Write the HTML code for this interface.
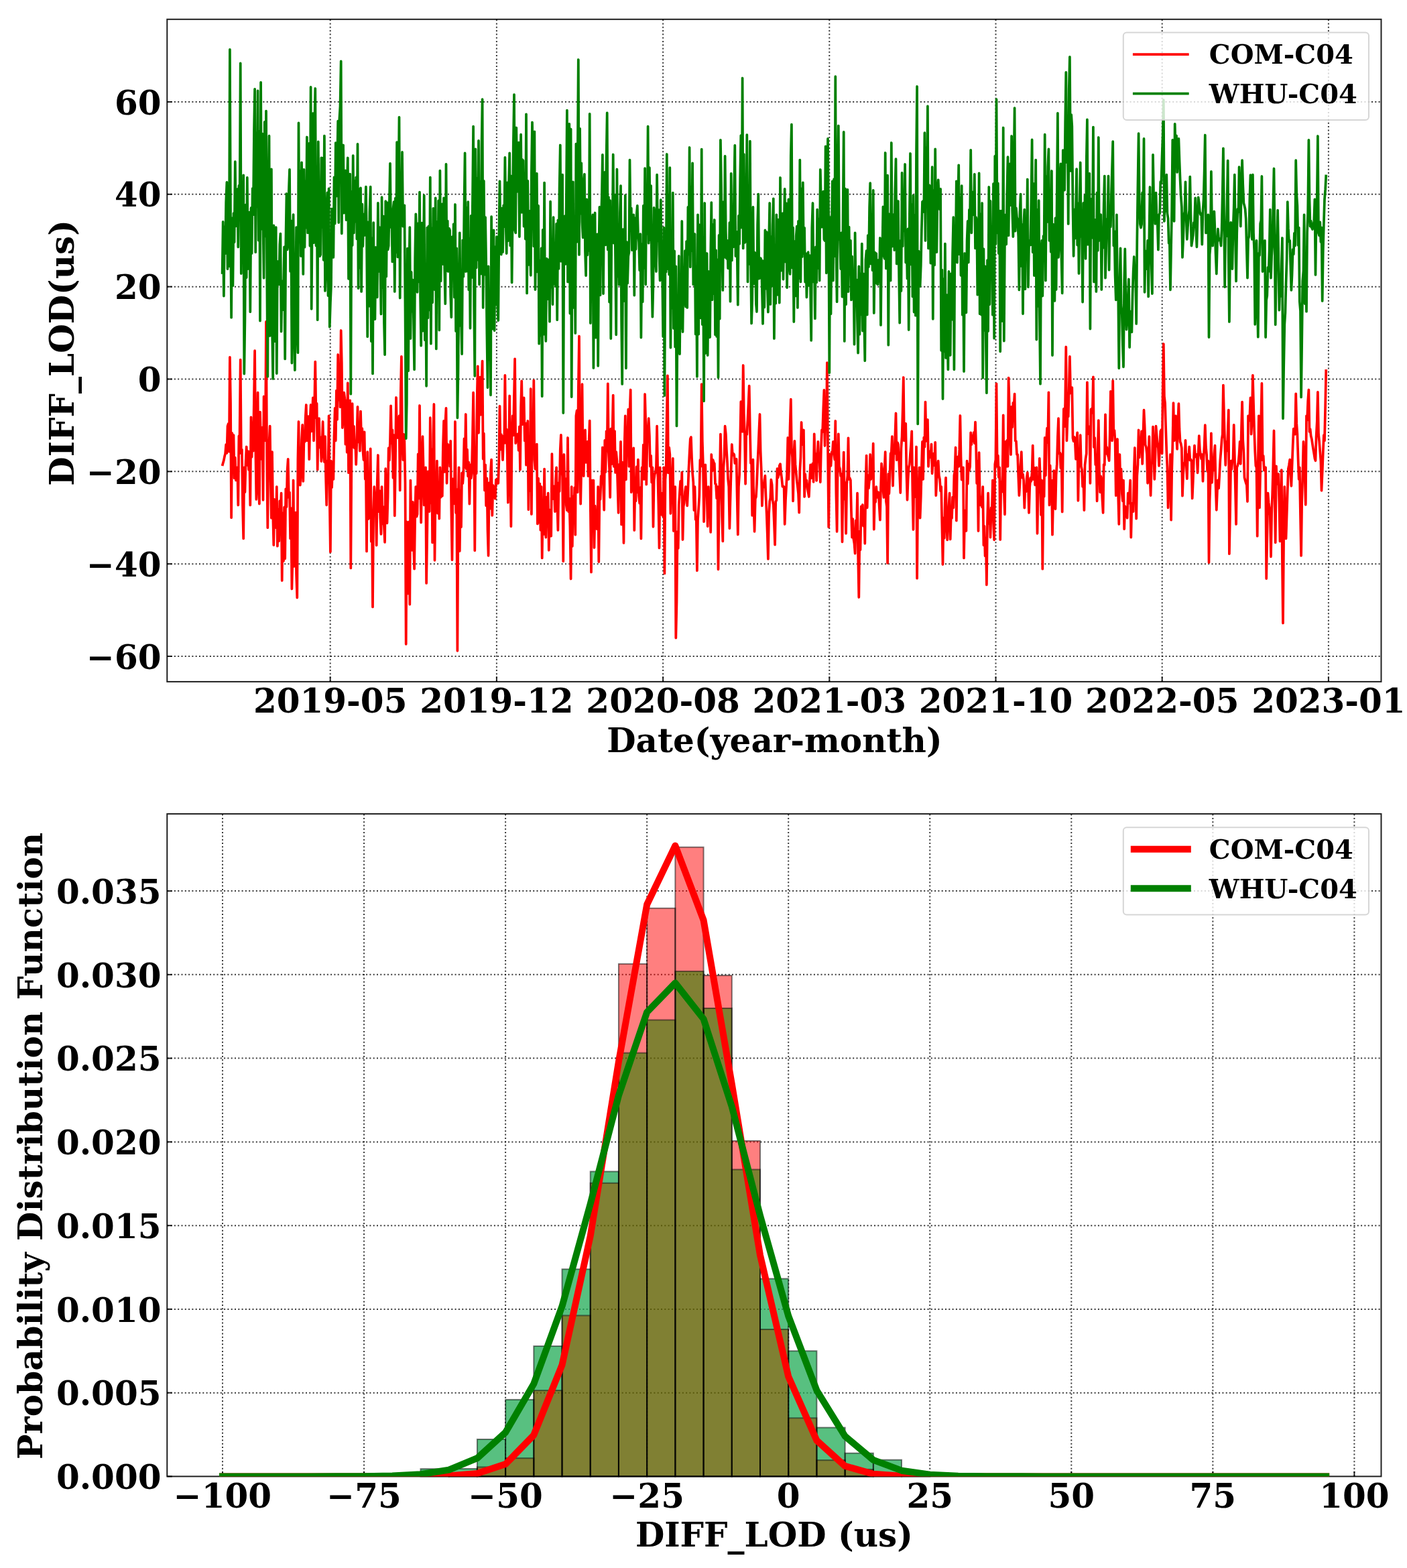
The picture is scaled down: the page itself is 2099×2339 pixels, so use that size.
<!DOCTYPE html>
<html lang="en"><head><meta charset="utf-8"><title>DIFF_LOD</title><style>html,body{margin:0;padding:0;background:#fff}
body{width:2099px;height:2339px;overflow:hidden}
svg{display:block}
.g{stroke:#000;stroke-opacity:.78;stroke-width:2;stroke-dasharray:2 3.3;fill:none}
.t{stroke:#000;stroke-opacity:.85;stroke-width:2}
.s{fill:none;stroke:#000;stroke-opacity:.88;stroke-width:2;stroke-linejoin:miter}
.tk{font-size:50px;fill:#000}
.lg{font-size:40px;fill:#000}
</style></head><body><svg width="2099" height="2339" viewBox="0 0 2099 2339" font-family='"DejaVu Serif","Liberation Serif",serif' font-weight="bold">
<defs><clipPath id="c2"><rect x="249.3" y="1214.1" width="1811.2" height="988.3000000000002"/></clipPath><clipPath id="c1"><rect x="249.3" y="28.8" width="1811.2" height="988.1"/></clipPath></defs><rect width="2099" height="2339" fill="#fff"/>
<g id="top">
<line x1="492.70" y1="1016.90" x2="492.70" y2="28.80" class="g"/>
<line x1="740.90" y1="1016.90" x2="740.90" y2="28.80" class="g"/>
<line x1="989.10" y1="1016.90" x2="989.10" y2="28.80" class="g"/>
<line x1="1237.30" y1="1016.90" x2="1237.30" y2="28.80" class="g"/>
<line x1="1485.50" y1="1016.90" x2="1485.50" y2="28.80" class="g"/>
<line x1="1733.70" y1="1016.90" x2="1733.70" y2="28.80" class="g"/>
<line x1="1981.90" y1="1016.90" x2="1981.90" y2="28.80" class="g"/>
<line x1="249.30" y1="151.98" x2="2060.50" y2="151.98" class="g"/>
<line x1="249.30" y1="289.82" x2="2060.50" y2="289.82" class="g"/>
<line x1="249.30" y1="427.66" x2="2060.50" y2="427.66" class="g"/>
<line x1="249.30" y1="565.50" x2="2060.50" y2="565.50" class="g"/>
<line x1="249.30" y1="703.34" x2="2060.50" y2="703.34" class="g"/>
<line x1="249.30" y1="841.18" x2="2060.50" y2="841.18" class="g"/>
<line x1="249.30" y1="979.02" x2="2060.50" y2="979.02" class="g"/>
<path d="M331.6,694.9 L332.7,690.7 L333.9,686.6 L335.0,681.0 L336.1,676.6 L337.2,663.1 L338.4,675.9 L339.5,635.7 L340.6,632.2 L341.8,673.6 L342.9,532.8 L344.0,601.0 L345.1,772.2 L346.3,646.2 L347.4,693.3 L348.5,649.2 L349.6,713.1 L350.8,682.5 L351.9,716.5 L353.0,701.4 L354.2,697.3 L355.3,753.5 L356.4,650.5 L357.5,655.3 L358.7,536.7 L359.8,676.6 L360.9,670.8 L362.1,757.3 L363.2,803.5 L364.3,697.3 L365.4,734.1 L366.6,688.8 L367.7,666.5 L368.8,693.9 L369.9,673.1 L371.1,700.8 L372.2,673.7 L373.3,753.5 L374.5,622.3 L375.6,681.8 L376.7,630.2 L377.8,672.7 L379.0,592.4 L380.1,523.2 L381.2,662.2 L382.4,744.9 L383.5,677.7 L384.6,585.7 L385.7,722.4 L386.9,751.6 L388.0,614.6 L389.1,659.5 L390.2,684.8 L391.4,637.7 L392.5,745.8 L393.6,591.5 L394.8,639.4 L395.9,657.4 L397.0,480.0 L398.1,675.7 L399.3,787.2 L400.4,671.3 L401.5,661.1 L402.7,635.7 L403.8,717.8 L404.9,772.7 L406.0,674.2 L407.2,766.3 L408.3,813.1 L409.4,745.0 L410.6,747.9 L411.7,787.3 L412.8,726.1 L413.9,814.7 L415.1,760.1 L416.2,807.2 L417.3,747.3 L418.4,768.5 L419.6,735.7 L420.7,866.0 L421.8,765.5 L423.0,836.9 L424.1,756.7 L425.2,833.3 L426.3,729.4 L427.5,756.3 L428.6,701.7 L429.7,684.8 L430.9,742.0 L432.0,734.6 L433.1,803.3 L434.2,758.1 L435.4,878.5 L436.5,833.3 L437.6,716.5 L438.7,844.9 L439.9,836.5 L441.0,764.7 L442.1,856.0 L443.3,891.6 L444.4,684.9 L445.5,629.0 L446.6,714.5 L447.8,723.7 L448.9,706.0 L450.0,656.3 L451.2,633.8 L452.3,717.9 L453.4,654.7 L454.5,659.3 L455.7,623.0 L456.8,604.0 L457.9,657.4 L459.1,623.4 L460.2,621.1 L461.3,685.2 L462.4,630.6 L463.6,604.0 L464.7,643.5 L465.8,618.6 L466.9,593.4 L468.1,657.4 L469.2,603.8 L470.3,539.6 L471.5,623.1 L472.6,601.9 L473.7,700.6 L474.8,643.9 L476.0,624.2 L477.1,667.6 L478.2,652.1 L479.4,688.1 L480.5,668.2 L481.6,629.0 L482.7,672.4 L483.9,689.1 L485.0,651.1 L486.1,711.6 L487.2,753.5 L488.4,687.7 L489.5,705.1 L490.6,620.3 L491.8,745.9 L492.9,823.1 L494.0,687.6 L495.1,727.1 L496.3,690.0 L497.4,715.0 L498.5,651.0 L499.7,608.8 L500.8,657.4 L501.9,582.6 L503.0,625.9 L504.2,529.0 L505.3,596.6 L506.4,549.5 L507.5,607.1 L508.7,493.0 L509.8,540.8 L510.9,638.1 L512.1,620.6 L513.2,585.7 L514.3,594.1 L515.4,662.6 L516.6,597.7 L517.7,674.7 L518.8,571.3 L520.0,705.2 L521.1,674.4 L522.2,597.3 L523.3,847.4 L524.5,671.9 L525.6,602.1 L526.7,667.0 L527.9,635.8 L529.0,668.5 L530.1,658.8 L531.2,692.9 L532.4,655.1 L533.5,606.9 L534.6,659.3 L535.7,635.2 L536.9,672.7 L538.0,613.6 L539.1,655.6 L540.3,639.2 L541.4,671.8 L542.5,686.2 L543.6,644.4 L544.8,714.7 L545.9,705.8 L547.0,822.4 L548.2,674.2 L549.3,774.2 L550.4,703.9 L551.5,772.7 L552.7,669.4 L553.8,807.8 L554.9,772.3 L556.0,905.4 L557.2,759.7 L558.3,726.1 L559.4,742.2 L560.6,752.5 L561.7,813.5 L562.8,719.2 L563.9,679.0 L565.1,763.1 L566.2,732.0 L567.3,772.4 L568.5,796.8 L569.6,726.1 L570.7,781.5 L571.8,756.1 L573.0,786.0 L574.1,808.9 L575.2,699.2 L576.3,763.4 L577.5,780.4 L578.6,741.2 L579.7,668.5 L580.9,686.7 L582.0,657.4 L583.1,605.3 L584.2,661.1 L585.4,641.4 L586.5,712.8 L587.6,649.2 L588.8,769.3 L589.9,692.4 L591.0,593.0 L592.1,647.7 L593.3,653.0 L594.4,637.9 L595.5,620.3 L596.7,731.4 L597.8,586.1 L598.9,531.9 L600.0,653.9 L601.2,686.2 L602.3,647.8 L603.4,658.8 L604.5,719.8 L605.7,960.8 L606.8,778.4 L607.9,885.5 L609.1,798.0 L610.2,778.5 L611.3,901.6 L612.4,716.5 L613.6,792.4 L614.7,820.8 L615.8,748.8 L617.0,810.7 L618.1,848.7 L619.2,769.6 L620.3,726.1 L621.5,770.7 L622.6,767.0 L623.7,677.5 L624.8,743.5 L626.0,605.0 L627.1,725.3 L628.2,779.5 L629.4,687.4 L630.5,651.1 L631.6,697.2 L632.7,753.5 L633.9,705.7 L635.0,697.3 L636.1,869.9 L637.3,792.0 L638.4,703.3 L639.5,748.2 L640.6,763.1 L641.8,623.2 L642.9,750.4 L644.0,670.1 L645.1,809.3 L646.3,647.9 L647.4,603.0 L648.5,835.8 L649.7,725.7 L650.8,751.7 L651.9,687.6 L653.0,765.7 L654.2,719.7 L655.3,773.7 L656.4,697.3 L657.6,741.8 L658.7,707.0 L659.8,740.0 L660.9,668.0 L662.1,628.0 L663.2,703.9 L664.3,632.3 L665.5,608.8 L666.6,720.8 L667.7,662.4 L668.8,679.1 L670.0,664.4 L671.1,695.8 L672.2,657.8 L673.3,759.1 L674.5,835.2 L675.6,714.4 L676.7,751.6 L677.9,734.3 L679.0,629.0 L680.1,765.0 L681.2,729.9 L682.4,970.8 L683.5,766.5 L684.6,697.3 L685.8,822.0 L686.9,732.3 L688.0,786.2 L689.1,705.6 L690.3,721.0 L691.4,705.4 L692.5,654.3 L693.6,697.2 L694.8,618.0 L695.9,699.6 L697.0,670.7 L698.2,710.5 L699.3,689.6 L700.4,751.6 L701.5,693.4 L702.7,713.3 L703.8,705.4 L704.9,656.1 L706.1,585.7 L707.2,664.6 L708.3,821.2 L709.4,668.0 L710.6,706.3 L711.7,592.0 L712.8,546.3 L714.0,645.8 L715.1,588.3 L716.2,562.6 L717.3,618.6 L718.5,570.2 L719.6,538.6 L720.7,684.5 L721.8,646.7 L723.0,731.4 L724.1,693.4 L725.2,754.3 L726.4,713.5 L727.5,791.3 L728.6,828.9 L729.7,720.3 L730.9,758.7 L732.0,703.7 L733.1,685.7 L734.3,768.9 L735.4,723.9 L736.5,737.3 L737.6,726.1 L738.8,743.9 L739.9,715.7 L741.0,721.7 L742.1,714.6 L743.3,720.8 L744.4,685.1 L745.5,605.9 L746.7,670.6 L747.8,648.1 L748.9,658.8 L750.0,686.2 L751.2,650.3 L752.3,660.9 L753.4,559.8 L754.6,660.7 L755.7,640.4 L756.8,678.0 L757.9,749.7 L759.1,673.3 L760.2,590.5 L761.3,697.9 L762.4,785.2 L763.6,652.1 L764.7,620.3 L765.8,649.4 L767.0,589.1 L768.1,535.3 L769.2,661.2 L770.3,649.3 L771.5,655.5 L772.6,647.3 L773.7,671.8 L774.9,636.5 L776.0,700.6 L777.1,608.3 L778.2,568.4 L779.4,633.1 L780.5,631.3 L781.6,593.4 L782.8,657.4 L783.9,631.4 L785.0,693.7 L786.1,649.6 L787.3,628.0 L788.4,760.2 L789.5,672.2 L790.6,732.1 L791.8,580.0 L792.9,767.0 L794.0,617.5 L795.2,664.9 L796.3,567.5 L797.4,686.2 L798.5,699.6 L799.7,674.3 L800.8,662.6 L801.9,781.4 L803.1,713.6 L804.2,779.3 L805.3,721.5 L806.4,790.6 L807.6,726.1 L808.7,832.4 L809.8,754.7 L810.9,797.0 L812.1,699.6 L813.2,784.4 L814.3,801.6 L815.5,741.7 L816.6,778.8 L817.7,735.7 L818.8,820.8 L820.0,760.6 L821.1,784.3 L822.2,799.7 L823.4,677.1 L824.5,744.1 L825.6,738.3 L826.7,725.4 L827.9,763.1 L829.0,716.5 L830.1,697.3 L831.2,748.9 L832.4,791.0 L833.5,720.4 L834.6,732.9 L835.8,670.8 L836.9,648.8 L838.0,695.8 L839.1,711.1 L840.3,837.2 L841.4,678.0 L842.5,742.9 L843.7,714.0 L844.8,753.6 L845.9,761.2 L847.0,653.0 L848.2,763.3 L849.3,743.7 L850.4,784.9 L851.6,863.5 L852.7,726.1 L853.8,815.0 L854.9,740.6 L856.1,775.8 L857.2,727.4 L858.3,797.7 L859.4,620.3 L860.6,612.5 L861.7,734.3 L862.8,583.2 L864.0,501.5 L865.1,687.8 L866.2,751.6 L867.3,694.2 L868.5,573.2 L869.6,682.5 L870.7,710.2 L871.9,650.3 L873.0,641.5 L874.1,689.9 L875.2,664.3 L876.4,658.8 L877.5,710.2 L878.6,661.1 L879.7,627.6 L880.9,761.8 L882.0,853.5 L883.1,716.6 L884.3,791.8 L885.4,716.5 L886.5,817.0 L887.6,754.6 L888.8,788.6 L889.9,764.8 L891.0,789.4 L892.2,726.1 L893.3,838.1 L894.4,740.2 L895.5,744.9 L896.7,710.1 L897.8,715.0 L898.9,667.5 L900.0,720.8 L901.2,760.8 L902.3,656.9 L903.4,704.1 L904.6,643.3 L905.7,672.7 L906.8,572.3 L907.9,675.5 L909.1,699.5 L910.2,742.0 L911.3,639.6 L912.5,692.3 L913.6,642.4 L914.7,589.6 L915.8,695.8 L917.0,643.0 L918.1,704.9 L919.2,674.2 L920.4,687.6 L921.5,725.7 L922.6,765.0 L923.7,692.9 L924.9,707.5 L926.0,658.8 L927.1,782.4 L928.2,689.7 L929.4,744.3 L930.5,809.9 L931.6,666.2 L932.8,620.3 L933.9,715.5 L935.0,644.5 L936.1,666.7 L937.3,610.7 L938.4,695.8 L939.5,616.5 L940.7,581.5 L941.8,734.3 L942.9,725.5 L944.0,694.9 L945.2,668.4 L946.3,791.0 L947.4,723.9 L948.5,747.4 L949.7,696.3 L950.8,734.3 L951.9,685.7 L953.1,740.0 L954.2,750.7 L955.3,727.3 L956.4,803.5 L957.6,697.3 L958.7,714.8 L959.8,663.6 L961.0,715.0 L962.1,588.0 L963.2,629.3 L964.3,722.7 L965.5,652.3 L966.6,641.3 L967.7,624.2 L968.9,650.2 L970.0,695.8 L971.1,679.8 L972.2,719.7 L973.4,697.3 L974.5,785.8 L975.6,716.5 L976.7,707.6 L977.9,704.5 L979.0,695.8 L980.1,635.7 L981.3,708.1 L982.4,753.5 L983.5,817.4 L984.6,697.3 L985.8,767.6 L986.9,735.7 L988.0,768.0 L989.2,770.0 L990.3,697.3 L991.4,855.4 L992.5,715.3 L993.7,699.4 L994.8,620.6 L995.9,560.3 L997.0,705.4 L998.2,667.5 L999.3,678.0 L1000.4,766.0 L1001.6,712.5 L1002.7,716.4 L1003.8,683.8 L1004.9,792.0 L1006.1,765.5 L1007.2,726.1 L1008.3,951.6 L1009.5,897.9 L1010.6,793.1 L1011.7,818.0 L1012.8,752.6 L1014.0,734.3 L1015.1,717.8 L1016.2,737.2 L1017.3,704.6 L1018.5,805.0 L1019.6,755.3 L1020.7,750.3 L1021.9,734.3 L1023.0,726.1 L1024.1,728.8 L1025.2,754.5 L1026.4,729.5 L1027.5,698.6 L1028.6,676.5 L1029.8,654.7 L1030.9,652.1 L1032.0,683.0 L1033.1,705.3 L1034.3,719.4 L1035.4,761.2 L1036.5,726.1 L1037.7,775.0 L1038.8,775.9 L1039.9,851.2 L1041.0,775.6 L1042.2,757.9 L1043.3,739.5 L1044.4,686.1 L1045.5,695.8 L1046.7,573.2 L1047.8,658.0 L1048.9,692.5 L1050.1,778.1 L1051.2,724.1 L1052.3,693.4 L1053.4,735.4 L1054.6,738.2 L1055.7,785.2 L1056.8,726.1 L1058.0,759.0 L1059.1,746.6 L1060.2,793.9 L1061.3,678.0 L1062.5,702.6 L1063.6,686.1 L1064.7,689.6 L1065.8,691.5 L1067.0,721.6 L1068.1,722.4 L1069.2,743.4 L1070.4,726.1 L1071.5,849.3 L1072.6,755.9 L1073.7,714.5 L1074.9,647.6 L1076.0,694.0 L1077.1,769.9 L1078.3,807.4 L1079.4,697.3 L1080.5,681.6 L1081.6,635.7 L1082.8,647.2 L1083.9,671.4 L1085.0,689.9 L1086.1,714.5 L1087.3,726.1 L1088.4,788.1 L1089.5,744.5 L1090.7,700.7 L1091.8,663.0 L1092.9,678.8 L1094.0,676.6 L1095.2,677.9 L1096.3,691.0 L1097.4,685.7 L1098.6,684.8 L1099.7,743.3 L1100.8,797.4 L1101.9,726.1 L1103.1,708.1 L1104.2,659.3 L1105.3,599.2 L1106.5,628.9 L1107.6,643.9 L1108.7,545.0 L1109.8,617.2 L1111.0,649.4 L1112.1,721.8 L1113.2,647.3 L1114.3,648.0 L1115.5,624.4 L1116.6,601.6 L1117.7,575.7 L1118.9,642.0 L1120.0,690.9 L1121.1,691.5 L1122.2,768.9 L1123.4,685.7 L1124.5,755.5 L1125.6,792.9 L1126.8,744.0 L1127.9,741.1 L1129.0,722.3 L1130.1,694.1 L1131.3,669.2 L1132.4,642.0 L1133.5,618.0 L1134.6,672.9 L1135.8,701.9 L1136.9,754.5 L1138.0,726.1 L1139.2,726.7 L1140.3,716.2 L1141.4,709.7 L1142.5,740.8 L1143.7,766.5 L1144.8,796.9 L1145.9,833.9 L1147.1,766.5 L1148.2,748.0 L1149.3,743.1 L1150.4,715.5 L1151.6,723.0 L1152.7,746.8 L1153.8,753.4 L1154.9,780.0 L1156.1,812.7 L1157.2,748.3 L1158.3,746.4 L1159.5,699.2 L1160.6,712.5 L1161.7,708.2 L1162.8,694.6 L1164.0,692.1 L1165.1,704.9 L1166.2,713.2 L1167.4,725.9 L1168.5,725.5 L1169.6,726.1 L1170.7,782.0 L1171.9,747.5 L1173.0,726.8 L1174.1,706.0 L1175.3,653.0 L1176.4,715.0 L1177.5,686.7 L1178.6,636.9 L1179.8,595.7 L1180.9,669.1 L1182.0,681.8 L1183.1,747.4 L1184.3,677.9 L1185.4,657.8 L1186.5,692.9 L1187.7,705.4 L1188.8,717.1 L1189.9,726.1 L1191.0,736.0 L1192.2,764.7 L1193.3,702.1 L1194.4,682.2 L1195.6,630.0 L1196.7,663.1 L1197.8,650.7 L1198.9,641.5 L1200.1,741.0 L1201.2,707.3 L1202.3,724.8 L1203.4,716.5 L1204.6,729.0 L1205.7,734.7 L1206.8,741.0 L1208.0,715.1 L1209.1,693.4 L1210.2,713.2 L1211.3,696.3 L1212.5,691.3 L1213.6,718.9 L1214.7,647.3 L1215.9,689.8 L1217.0,676.9 L1218.1,717.0 L1219.2,682.2 L1220.4,658.8 L1221.5,688.3 L1222.6,686.1 L1223.8,719.3 L1224.9,669.6 L1226.0,641.5 L1227.1,644.4 L1228.3,609.2 L1229.4,581.9 L1230.5,665.0 L1231.6,614.8 L1232.8,638.1 L1233.9,541.1 L1235.0,667.7 L1236.2,786.2 L1237.3,705.4 L1238.4,678.0 L1239.5,694.8 L1240.7,674.3 L1241.8,676.3 L1242.9,658.8 L1244.1,676.6 L1245.2,685.5 L1246.3,628.0 L1247.4,736.4 L1248.6,792.9 L1249.7,695.1 L1250.8,647.3 L1251.9,695.8 L1253.1,699.6 L1254.2,710.1 L1255.3,706.9 L1256.5,808.3 L1257.6,722.0 L1258.7,674.6 L1259.8,744.5 L1261.0,719.8 L1262.1,795.8 L1263.2,722.4 L1264.4,709.8 L1265.5,653.4 L1266.6,715.0 L1267.7,713.2 L1268.9,716.5 L1270.0,764.4 L1271.1,801.6 L1272.2,774.2 L1273.4,804.3 L1274.5,811.0 L1275.6,825.6 L1276.8,776.4 L1277.9,789.8 L1279.0,735.7 L1280.1,825.4 L1281.3,891.0 L1282.4,792.7 L1283.5,820.3 L1284.7,755.5 L1285.8,772.7 L1286.9,753.0 L1288.0,784.6 L1289.2,761.6 L1290.3,810.8 L1291.4,726.3 L1292.6,679.6 L1293.7,757.4 L1294.8,708.9 L1295.9,728.3 L1297.1,715.1 L1298.2,678.0 L1299.3,715.0 L1300.4,694.1 L1301.6,705.0 L1302.7,661.7 L1303.8,789.7 L1305.0,739.3 L1306.1,748.8 L1307.2,726.1 L1308.3,742.0 L1309.5,733.9 L1310.6,734.7 L1311.7,754.3 L1312.9,775.6 L1314.0,728.1 L1315.1,691.5 L1316.2,702.6 L1317.4,730.3 L1318.5,742.0 L1319.6,699.9 L1320.7,674.2 L1321.9,747.7 L1323.0,755.8 L1324.1,840.0 L1325.3,706.9 L1326.4,736.4 L1327.5,709.3 L1328.6,676.6 L1329.8,674.4 L1330.9,651.1 L1332.0,724.7 L1333.2,674.3 L1334.3,677.0 L1335.4,649.2 L1336.5,616.5 L1337.7,686.2 L1338.8,660.1 L1339.9,662.6 L1341.0,683.0 L1342.2,709.3 L1343.3,735.2 L1344.4,668.4 L1345.6,651.3 L1346.7,611.6 L1347.8,563.0 L1348.9,657.4 L1350.1,656.4 L1351.2,631.9 L1352.3,702.2 L1353.5,745.8 L1354.6,714.9 L1355.7,697.3 L1356.8,693.1 L1358.0,676.6 L1359.1,663.1 L1360.2,643.4 L1361.4,733.1 L1362.5,790.0 L1363.6,697.3 L1364.7,703.0 L1365.9,741.2 L1367.0,666.5 L1368.1,862.7 L1369.2,742.0 L1370.4,733.5 L1371.5,697.3 L1372.6,772.7 L1373.8,740.2 L1374.9,696.3 L1376.0,658.8 L1377.1,715.0 L1378.3,652.6 L1379.4,666.6 L1380.5,599.6 L1381.7,658.0 L1382.8,629.7 L1383.9,626.1 L1385.0,695.8 L1386.2,673.1 L1387.3,682.3 L1388.4,679.8 L1389.5,662.6 L1390.7,706.4 L1391.8,683.0 L1392.9,676.6 L1394.1,694.4 L1395.2,659.8 L1396.3,739.1 L1397.4,716.2 L1398.6,695.4 L1399.7,687.6 L1400.8,709.5 L1402.0,715.0 L1403.1,732.5 L1404.2,726.1 L1405.3,781.4 L1406.5,842.0 L1407.6,772.4 L1408.7,802.8 L1409.9,746.0 L1411.0,712.6 L1412.1,780.3 L1413.2,805.4 L1414.4,777.9 L1415.5,754.9 L1416.6,735.7 L1417.7,804.5 L1418.9,765.3 L1420.0,773.0 L1421.1,741.7 L1422.3,757.4 L1423.4,708.8 L1424.5,703.5 L1425.6,667.5 L1426.8,776.6 L1427.9,700.1 L1429.0,681.3 L1430.2,695.8 L1431.3,670.9 L1432.4,620.0 L1433.5,681.5 L1434.7,715.6 L1435.8,704.6 L1436.9,697.3 L1438.0,832.4 L1439.2,761.4 L1440.3,781.7 L1441.4,792.0 L1442.6,687.6 L1443.7,721.8 L1444.8,692.1 L1445.9,701.8 L1447.1,695.8 L1448.2,645.3 L1449.3,663.1 L1450.5,650.2 L1451.6,657.5 L1452.7,645.2 L1453.8,661.2 L1455.0,629.6 L1456.1,663.4 L1457.2,720.9 L1458.3,687.6 L1459.5,792.0 L1460.6,675.1 L1461.7,737.8 L1462.9,753.5 L1464.0,745.9 L1465.1,756.6 L1466.2,726.1 L1467.4,813.1 L1468.5,784.8 L1469.6,829.4 L1470.8,803.1 L1471.9,872.4 L1473.0,779.2 L1474.1,735.7 L1475.3,780.9 L1476.4,761.5 L1477.5,801.6 L1478.7,757.5 L1479.8,762.5 L1480.9,716.5 L1482.0,779.7 L1483.2,805.4 L1484.3,692.6 L1485.4,685.6 L1486.5,572.3 L1487.7,695.8 L1488.8,679.7 L1489.9,712.0 L1491.1,697.3 L1492.2,805.0 L1493.3,719.4 L1494.4,733.9 L1495.6,709.3 L1496.7,619.4 L1497.8,732.8 L1499.0,767.4 L1500.1,658.8 L1501.2,696.1 L1502.3,656.9 L1503.5,695.8 L1504.6,563.6 L1505.7,602.1 L1506.8,642.6 L1508.0,678.1 L1509.1,606.9 L1510.2,637.3 L1511.4,600.8 L1512.5,607.4 L1513.6,587.6 L1514.7,657.4 L1515.9,658.2 L1517.0,677.8 L1518.1,678.0 L1519.3,712.1 L1520.4,739.1 L1521.5,720.6 L1522.6,693.7 L1523.8,674.2 L1524.9,712.5 L1526.0,707.5 L1527.1,716.5 L1528.3,757.7 L1529.4,726.3 L1530.5,733.3 L1531.7,713.6 L1532.8,705.0 L1533.9,724.7 L1535.0,765.0 L1536.2,726.1 L1537.3,713.0 L1538.4,717.8 L1539.6,704.9 L1540.7,664.6 L1541.8,715.0 L1542.9,697.5 L1544.1,723.5 L1545.2,706.7 L1546.3,697.3 L1547.5,795.8 L1548.6,732.6 L1549.7,734.3 L1550.8,683.8 L1552.0,719.3 L1553.1,768.2 L1554.2,716.5 L1555.3,848.7 L1556.5,730.5 L1557.6,740.7 L1558.7,653.0 L1559.9,709.3 L1561.0,658.7 L1562.1,638.7 L1563.2,660.1 L1564.4,585.3 L1565.5,753.5 L1566.6,694.4 L1567.8,737.4 L1568.9,716.5 L1570.0,797.7 L1571.1,745.1 L1572.3,702.1 L1573.4,724.5 L1574.5,759.3 L1575.6,708.0 L1576.8,692.4 L1577.9,651.8 L1579.0,624.2 L1580.2,676.6 L1581.3,675.4 L1582.4,698.1 L1583.5,678.0 L1584.7,763.5 L1585.8,671.8 L1586.9,609.8 L1588.1,636.1 L1589.2,600.5 L1590.3,517.5 L1591.4,657.4 L1592.6,620.3 L1593.7,621.3 L1594.8,577.8 L1595.9,531.9 L1597.1,586.5 L1598.2,578.0 L1599.3,578.0 L1600.5,653.5 L1601.6,658.2 L1602.7,652.0 L1603.8,658.8 L1605.0,684.8 L1606.1,657.9 L1607.2,645.3 L1608.4,746.8 L1609.5,682.0 L1610.6,694.5 L1611.7,649.2 L1612.9,695.8 L1614.0,700.4 L1615.1,726.0 L1616.3,716.5 L1617.4,761.2 L1618.5,693.7 L1619.6,684.2 L1620.8,676.6 L1621.9,570.3 L1623.0,647.2 L1624.1,636.2 L1625.3,639.6 L1626.4,720.8 L1627.5,610.7 L1628.7,609.6 L1629.8,615.9 L1630.9,562.3 L1632.0,667.0 L1633.2,653.2 L1634.3,693.2 L1635.4,678.0 L1636.6,747.4 L1637.7,673.5 L1638.8,627.1 L1639.9,694.8 L1641.1,734.3 L1642.2,710.3 L1643.3,716.5 L1644.4,744.4 L1645.6,765.0 L1646.7,692.8 L1647.8,693.6 L1649.0,618.4 L1650.1,676.6 L1651.2,667.2 L1652.3,678.0 L1653.5,681.5 L1654.6,687.2 L1655.7,648.6 L1656.9,583.8 L1658.0,635.1 L1659.1,657.4 L1660.2,568.0 L1661.4,648.3 L1662.5,642.2 L1663.6,658.8 L1664.8,739.1 L1665.9,698.7 L1667.0,655.0 L1668.1,735.9 L1669.3,782.0 L1670.4,678.0 L1671.5,723.4 L1672.6,699.7 L1673.8,735.7 L1674.9,747.3 L1676.0,716.5 L1677.2,789.1 L1678.3,755.1 L1679.4,760.6 L1680.5,760.0 L1681.7,772.7 L1682.8,735.7 L1683.9,750.7 L1685.1,736.7 L1686.2,716.5 L1687.3,801.6 L1688.4,750.6 L1689.6,760.0 L1690.7,763.1 L1691.8,702.9 L1692.9,668.0 L1694.1,724.5 L1695.2,773.7 L1696.3,709.9 L1697.5,692.7 L1698.6,641.5 L1699.7,682.4 L1700.8,661.7 L1702.0,664.0 L1703.1,643.4 L1704.2,692.0 L1705.4,650.1 L1706.5,611.7 L1707.6,634.6 L1708.7,663.5 L1709.9,667.0 L1711.0,678.0 L1712.1,720.8 L1713.2,687.2 L1714.4,651.1 L1715.5,708.0 L1716.6,739.1 L1717.8,692.1 L1718.9,689.9 L1720.0,636.7 L1721.1,669.4 L1722.3,715.0 L1723.4,682.1 L1724.5,635.7 L1725.7,650.2 L1726.8,663.2 L1727.9,668.4 L1729.0,694.9 L1730.2,666.2 L1731.3,643.4 L1732.4,641.2 L1733.6,676.6 L1734.7,584.3 L1735.8,513.0 L1736.9,591.2 L1738.1,601.5 L1739.2,639.6 L1740.3,672.9 L1741.4,697.3 L1742.6,757.4 L1743.7,720.8 L1744.8,718.5 L1746.0,678.0 L1747.1,775.6 L1748.2,702.9 L1749.3,663.8 L1750.5,601.1 L1751.6,657.4 L1752.7,635.6 L1753.9,620.3 L1755.0,650.8 L1756.1,669.9 L1757.2,631.9 L1758.4,602.1 L1759.5,639.7 L1760.6,659.0 L1761.7,661.8 L1762.9,668.4 L1764.0,739.7 L1765.1,707.9 L1766.3,690.8 L1767.4,690.4 L1768.5,656.9 L1769.6,689.5 L1770.8,714.1 L1771.9,678.0 L1773.0,685.6 L1774.2,666.5 L1775.3,686.5 L1776.4,685.2 L1777.5,687.6 L1778.7,743.5 L1779.8,718.0 L1780.9,686.1 L1782.0,664.6 L1783.2,681.4 L1784.3,678.5 L1785.4,678.0 L1786.6,705.4 L1787.7,676.2 L1788.8,650.1 L1789.9,670.5 L1791.1,678.0 L1792.2,684.4 L1793.3,678.0 L1794.5,717.9 L1795.6,682.5 L1796.7,664.7 L1797.8,634.2 L1799.0,667.0 L1800.1,678.4 L1801.2,703.2 L1802.4,687.6 L1803.5,839.1 L1804.6,747.3 L1805.7,716.3 L1806.9,646.3 L1808.0,719.9 L1809.1,698.9 L1810.2,702.0 L1811.4,677.1 L1812.5,664.6 L1813.6,722.9 L1814.8,760.8 L1815.9,732.7 L1817.0,716.5 L1818.1,728.5 L1819.3,707.5 L1820.4,686.1 L1821.5,672.5 L1822.7,655.6 L1823.8,647.7 L1824.9,574.6 L1826.0,618.3 L1827.2,661.1 L1828.3,693.9 L1829.4,658.8 L1830.5,672.3 L1831.7,645.8 L1832.8,611.7 L1833.9,826.2 L1835.1,760.8 L1836.2,687.6 L1837.3,700.0 L1838.4,688.8 L1839.6,684.3 L1840.7,633.8 L1841.8,679.2 L1843.0,730.9 L1844.1,782.0 L1845.2,697.3 L1846.3,694.3 L1847.5,689.9 L1848.6,677.6 L1849.7,658.8 L1850.8,692.0 L1852.0,639.8 L1853.1,599.6 L1854.2,656.0 L1855.4,674.7 L1856.5,712.2 L1857.6,716.5 L1858.7,720.3 L1859.9,723.5 L1861.0,748.1 L1862.1,620.3 L1863.3,627.6 L1864.4,621.1 L1865.5,593.4 L1866.6,647.7 L1867.8,625.5 L1868.9,559.8 L1870.0,601.5 L1871.2,642.6 L1872.3,673.8 L1873.4,694.7 L1874.5,697.3 L1875.7,799.7 L1876.8,694.8 L1877.9,620.3 L1879.0,757.4 L1880.2,700.8 L1881.3,627.0 L1882.4,571.9 L1883.6,686.2 L1884.7,680.1 L1885.8,701.6 L1886.9,699.1 L1888.1,697.3 L1889.2,863.1 L1890.3,802.4 L1891.5,735.7 L1892.6,749.4 L1893.7,757.4 L1894.8,768.6 L1896.0,830.4 L1897.1,766.1 L1898.2,736.7 L1899.3,695.8 L1900.5,642.5 L1901.6,731.4 L1902.7,809.3 L1903.9,695.3 L1905.0,722.3 L1906.1,716.5 L1907.2,707.2 L1908.4,750.8 L1909.5,807.4 L1910.6,769.8 L1911.8,701.1 L1912.9,834.1 L1914.0,929.5 L1915.1,802.7 L1916.3,726.1 L1917.4,774.4 L1918.5,803.5 L1919.7,766.2 L1920.8,731.8 L1921.9,699.2 L1923.0,693.8 L1924.2,685.7 L1925.3,705.0 L1926.4,725.0 L1927.5,696.3 L1928.7,664.3 L1929.8,639.6 L1930.9,646.9 L1932.1,647.7 L1933.2,587.3 L1934.3,631.9 L1935.4,647.3 L1936.6,685.1 L1937.7,715.0 L1938.8,697.3 L1940.0,768.9 L1941.1,828.9 L1942.2,747.8 L1943.3,710.2 L1944.5,658.8 L1945.6,681.7 L1946.7,713.4 L1947.8,752.9 L1949.0,620.3 L1950.1,626.6 L1951.2,598.5 L1952.4,581.5 L1953.5,643.9 L1954.6,640.1 L1955.7,650.4 L1956.9,655.0 L1958.0,662.8 L1959.1,669.8 L1960.3,676.8 L1961.4,683.8 L1962.5,687.2 L1963.6,651.8 L1964.8,628.6 L1965.9,584.8 L1967.0,647.7 L1968.1,658.3 L1969.3,673.7 L1970.4,687.6 L1971.5,731.8 L1972.7,703.5 L1973.8,674.2 L1974.9,649.2 L1976.0,657.4 L1977.2,604.0 L1978.3,551.1" fill="none" stroke="#ff0000" stroke-width="3.75" stroke-linejoin="round" stroke-linecap="butt"/>
<path d="M331.6,408.9 L332.7,330.9 L333.9,441.6 L335.0,338.1 L336.1,378.3 L337.2,301.8 L338.4,271.8 L339.5,401.2 L340.6,280.8 L341.8,397.2 L342.9,73.8 L344.0,331.7 L345.1,473.7 L346.3,325.3 L347.4,426.2 L348.5,318.1 L349.6,361.3 L350.8,241.2 L351.9,337.4 L353.0,294.5 L354.2,282.1 L355.3,368.5 L356.4,277.0 L357.5,321.4 L358.7,94.4 L359.8,408.0 L360.9,284.0 L362.1,345.2 L363.2,261.4 L364.3,557.5 L365.4,477.6 L366.6,305.6 L367.7,414.1 L368.8,264.9 L369.9,401.2 L371.1,348.0 L372.2,316.6 L373.3,465.2 L374.5,310.2 L375.6,378.1 L376.7,281.2 L377.8,320.2 L379.0,196.0 L380.1,132.8 L381.2,376.2 L382.4,198.2 L383.5,308.4 L384.6,135.4 L385.7,358.6 L386.9,196.2 L388.0,478.5 L389.1,122.8 L390.2,341.7 L391.4,199.7 L392.5,334.7 L393.6,414.7 L394.8,182.0 L395.9,352.3 L397.0,165.6 L398.1,388.7 L399.3,561.8 L400.4,308.6 L401.5,202.7 L402.7,500.8 L403.8,276.0 L404.9,252.4 L406.0,486.5 L407.2,565.0 L408.3,336.3 L409.4,509.1 L410.6,418.7 L411.7,339.1 L412.8,557.0 L413.9,389.8 L415.1,410.7 L416.2,424.3 L417.3,365.1 L418.4,348.6 L419.6,494.5 L420.7,419.0 L421.8,462.2 L423.0,430.2 L424.1,368.4 L425.2,535.4 L426.3,364.0 L427.5,289.0 L428.6,372.4 L429.7,366.6 L430.9,284.3 L432.0,252.8 L433.1,404.7 L434.2,329.3 L435.4,541.6 L436.5,355.3 L437.6,320.1 L438.7,488.2 L439.9,552.2 L441.0,454.4 L442.1,339.1 L443.3,483.7 L444.4,526.2 L445.5,183.4 L446.6,361.4 L447.8,255.1 L448.9,382.0 L450.0,242.4 L451.2,332.2 L452.3,408.9 L453.4,252.8 L454.5,368.7 L455.7,270.1 L456.8,339.7 L457.9,204.5 L459.1,347.4 L460.2,310.0 L461.3,213.9 L462.4,366.7 L463.6,129.9 L464.7,460.8 L465.8,317.3 L466.9,169.1 L468.1,362.1 L469.2,191.6 L470.3,132.0 L471.5,366.6 L472.6,268.4 L473.7,477.2 L474.8,211.4 L476.0,343.0 L477.1,382.3 L478.2,380.0 L479.4,235.3 L480.5,339.0 L481.6,235.9 L482.7,387.8 L483.9,202.7 L485.0,433.9 L486.1,402.5 L487.2,318.1 L488.4,287.3 L489.5,441.0 L490.6,281.3 L491.8,487.7 L492.9,452.0 L494.0,426.1 L495.1,311.5 L496.3,364.1 L497.4,383.9 L498.5,264.4 L499.7,333.4 L500.8,213.1 L501.9,292.7 L503.0,250.2 L504.2,180.6 L505.3,332.0 L506.4,177.0 L507.5,158.5 L508.7,91.4 L509.8,348.3 L510.9,226.4 L512.1,216.5 L513.2,317.7 L514.3,266.2 L515.4,254.5 L516.6,328.1 L517.7,277.3 L518.8,235.5 L520.0,415.8 L521.1,286.0 L522.2,259.7 L523.3,587.7 L524.5,285.6 L525.6,366.0 L526.7,232.1 L527.9,347.4 L529.0,270.2 L530.1,330.7 L531.2,264.6 L532.4,356.4 L533.5,214.8 L534.6,430.0 L535.7,282.1 L536.9,399.5 L538.0,280.4 L539.1,434.9 L540.3,304.6 L541.4,367.4 L542.5,319.6 L543.6,351.2 L544.8,323.4 L545.9,278.7 L547.0,353.6 L548.2,502.2 L549.3,331.5 L550.4,456.7 L551.5,316.2 L552.7,278.7 L553.8,509.1 L554.9,355.0 L556.0,557.4 L557.2,332.2 L558.3,476.1 L559.4,476.2 L560.6,369.0 L561.7,402.1 L562.8,443.5 L563.9,302.8 L565.1,404.9 L566.2,339.0 L567.3,392.0 L568.5,468.5 L569.6,294.2 L570.7,429.0 L571.8,322.7 L573.0,480.9 L574.1,529.1 L575.2,300.2 L576.3,412.5 L577.5,302.1 L578.6,372.5 L579.7,366.6 L580.9,302.6 L582.0,243.8 L583.1,338.8 L584.2,316.3 L585.4,390.4 L586.5,311.5 L587.6,301.1 L588.8,434.9 L589.9,295.6 L591.0,376.4 L592.1,212.2 L593.3,383.4 L594.4,297.6 L595.5,174.8 L596.7,444.5 L597.8,287.7 L598.9,312.3 L600.0,226.9 L601.2,337.7 L602.3,327.5 L603.4,306.3 L604.5,458.8 L605.7,654.1 L606.8,601.8 L607.9,370.7 L609.1,553.2 L610.2,416.1 L611.3,339.1 L612.4,505.0 L613.6,405.8 L614.7,464.7 L615.8,417.7 L617.0,478.7 L618.1,551.2 L619.2,386.5 L620.3,319.4 L621.5,356.8 L622.6,435.8 L623.7,333.3 L624.8,420.3 L626.0,286.7 L627.1,443.4 L628.2,515.6 L629.4,332.7 L630.5,493.7 L631.6,400.0 L632.7,291.5 L633.9,507.2 L635.0,412.5 L636.1,575.8 L637.3,339.6 L638.4,474.2 L639.5,337.3 L640.6,462.4 L641.8,264.6 L642.9,512.7 L644.0,340.7 L645.1,451.3 L646.3,310.8 L647.4,420.2 L648.5,432.0 L649.7,295.3 L650.8,520.4 L651.9,331.0 L653.0,432.2 L654.2,299.5 L655.3,492.5 L656.4,254.6 L657.6,419.2 L658.7,306.3 L659.8,304.5 L660.9,394.1 L662.1,295.3 L663.2,400.1 L664.3,453.1 L665.5,244.8 L666.6,403.9 L667.7,329.5 L668.8,405.0 L670.0,340.8 L671.1,343.4 L672.2,439.7 L673.3,473.3 L674.5,353.3 L675.6,405.8 L676.7,334.3 L677.9,443.5 L679.0,305.0 L680.1,493.9 L681.2,370.3 L682.4,623.3 L683.5,553.8 L684.6,422.0 L685.8,347.3 L686.9,486.0 L688.0,477.5 L689.1,528.1 L690.3,358.3 L691.4,412.7 L692.5,306.8 L693.6,228.4 L694.8,405.0 L695.9,309.6 L697.0,404.5 L698.2,301.1 L699.3,432.2 L700.4,355.9 L701.5,489.7 L702.7,321.8 L703.8,413.9 L704.9,307.6 L706.1,188.6 L707.2,455.9 L708.3,560.8 L709.4,222.3 L710.6,399.3 L711.7,266.5 L712.8,387.6 L714.0,209.8 L715.1,424.3 L716.2,271.5 L717.3,408.5 L718.5,221.7 L719.6,148.2 L720.7,458.9 L721.8,269.9 L723.0,409.6 L724.1,324.2 L725.2,391.1 L726.4,498.8 L727.5,578.1 L728.6,397.3 L729.7,536.6 L730.9,448.7 L732.0,589.3 L733.1,323.2 L734.3,490.7 L735.4,404.7 L736.5,343.4 L737.6,493.1 L738.8,368.3 L739.9,454.4 L741.0,353.2 L742.1,450.3 L743.3,478.1 L744.4,350.6 L745.5,270.3 L746.7,371.8 L747.8,379.6 L748.9,310.7 L750.0,376.2 L751.2,306.4 L752.3,338.1 L753.4,234.8 L754.6,331.3 L755.7,378.1 L756.8,272.3 L757.9,359.3 L759.1,272.7 L760.2,228.4 L761.3,366.4 L762.4,262.6 L763.6,421.4 L764.7,318.7 L765.8,217.4 L767.0,141.1 L768.1,343.0 L769.2,347.4 L770.3,190.5 L771.5,286.0 L772.6,230.3 L773.7,212.6 L774.9,353.1 L776.0,251.2 L777.1,200.7 L778.2,316.8 L779.4,238.2 L780.5,239.6 L781.6,337.7 L782.8,258.2 L783.9,356.5 L785.0,170.3 L786.1,437.4 L787.3,269.9 L788.4,394.8 L789.5,314.6 L790.6,363.9 L791.8,410.8 L792.9,256.1 L794.0,182.5 L795.2,258.4 L796.3,367.3 L797.4,196.3 L798.5,432.0 L799.7,333.3 L800.8,258.8 L801.9,405.4 L803.1,306.9 L804.2,512.7 L805.3,388.7 L806.4,500.6 L807.6,370.3 L808.7,591.2 L809.8,343.0 L810.9,498.7 L812.1,272.6 L813.2,472.8 L814.3,508.9 L815.5,385.8 L816.6,387.6 L817.7,446.2 L818.8,387.5 L820.0,479.7 L821.1,300.7 L822.2,428.6 L823.4,359.6 L824.5,454.1 L825.6,324.2 L826.7,423.4 L827.9,379.3 L829.0,426.6 L830.1,333.8 L831.2,477.2 L832.4,328.3 L833.5,400.8 L834.6,281.0 L835.8,216.5 L836.9,389.7 L838.0,329.4 L839.1,260.7 L840.3,616.0 L841.4,357.4 L842.5,322.3 L843.7,393.9 L844.8,306.8 L845.9,164.6 L847.0,420.4 L848.2,269.1 L849.3,184.8 L850.4,467.5 L851.6,192.5 L852.7,592.0 L853.8,326.4 L854.9,271.3 L856.1,458.8 L857.2,338.0 L858.3,497.0 L859.4,214.6 L860.6,360.8 L861.7,243.2 L862.8,89.0 L864.0,380.0 L865.1,191.8 L866.2,318.7 L867.3,243.4 L868.5,331.9 L869.6,354.4 L870.7,273.9 L871.9,259.8 L873.0,375.6 L874.1,411.2 L875.2,297.3 L876.4,380.4 L877.5,311.8 L878.6,373.9 L879.7,169.8 L880.9,482.0 L882.0,323.2 L883.1,433.7 L884.3,320.3 L885.4,548.9 L886.5,354.9 L887.6,317.5 L888.8,503.6 L889.9,411.6 L891.0,349.4 L892.2,545.8 L893.3,380.1 L894.4,308.8 L895.5,440.2 L896.7,331.7 L897.8,295.1 L898.9,230.9 L900.0,438.1 L901.2,298.9 L902.3,256.9 L903.4,365.3 L904.6,235.0 L905.7,168.4 L906.8,372.4 L907.9,294.0 L909.1,450.6 L910.2,299.2 L911.3,505.0 L912.5,320.5 L913.6,356.9 L914.7,230.5 L915.8,362.7 L917.0,291.0 L918.1,384.6 L919.2,499.3 L920.4,252.5 L921.5,412.3 L922.6,362.8 L923.7,424.7 L924.9,317.3 L926.0,277.1 L927.1,475.8 L928.2,572.9 L929.4,342.2 L930.5,449.3 L931.6,398.6 L932.8,291.5 L933.9,549.3 L935.0,361.2 L936.1,422.6 L937.3,382.3 L938.4,376.2 L939.5,238.6 L940.7,341.3 L941.8,310.5 L942.9,373.2 L944.0,343.2 L945.2,320.3 L946.3,440.6 L947.4,325.4 L948.5,372.0 L949.7,320.2 L950.8,306.9 L951.9,347.4 L953.1,361.1 L954.2,403.3 L955.3,349.2 L956.4,503.5 L957.6,364.0 L958.7,450.2 L959.8,306.9 L961.0,399.7 L962.1,251.1 L963.2,424.3 L964.3,278.9 L965.5,349.0 L966.6,188.6 L967.7,362.7 L968.9,250.2 L970.0,358.1 L971.1,277.1 L972.2,402.8 L973.4,472.7 L974.5,422.3 L975.6,309.8 L976.7,318.0 L977.9,389.2 L979.0,405.0 L980.1,260.7 L981.3,359.3 L982.4,312.8 L983.5,380.0 L984.6,418.5 L985.8,298.2 L986.9,412.5 L988.0,399.4 L989.2,502.1 L990.3,339.6 L991.4,590.0 L992.5,382.5 L993.7,405.8 L994.8,230.0 L995.9,401.2 L997.0,291.6 L998.2,409.6 L999.3,250.1 L1000.4,518.5 L1001.6,356.3 L1002.7,459.6 L1003.8,287.6 L1004.9,489.8 L1006.1,374.4 L1007.2,517.4 L1008.3,397.3 L1009.5,635.4 L1010.6,475.2 L1011.7,502.6 L1012.8,381.9 L1014.0,528.1 L1015.1,417.8 L1016.2,489.9 L1017.3,330.0 L1018.5,495.0 L1019.6,406.3 L1020.7,454.4 L1021.9,374.2 L1023.0,457.4 L1024.1,360.1 L1025.2,458.9 L1026.4,308.8 L1027.5,379.3 L1028.6,220.0 L1029.8,398.3 L1030.9,279.3 L1032.0,374.0 L1033.1,243.4 L1034.3,424.3 L1035.4,358.0 L1036.5,349.2 L1037.7,498.4 L1038.8,405.8 L1039.9,561.8 L1041.0,320.3 L1042.2,498.6 L1043.3,335.3 L1044.4,404.2 L1045.5,474.3 L1046.7,222.6 L1047.8,484.1 L1048.9,380.3 L1050.1,598.3 L1051.2,303.0 L1052.3,527.0 L1053.4,487.9 L1054.6,378.0 L1055.7,530.0 L1056.8,404.8 L1058.0,478.2 L1059.1,503.1 L1060.2,381.0 L1061.3,302.1 L1062.5,447.2 L1063.6,335.2 L1064.7,438.2 L1065.8,328.0 L1067.0,499.3 L1068.1,373.3 L1069.2,501.9 L1070.4,387.6 L1071.5,563.1 L1072.6,350.9 L1073.7,475.6 L1074.9,208.8 L1076.0,277.6 L1077.1,366.2 L1078.3,432.9 L1079.4,301.1 L1080.5,383.9 L1081.6,232.8 L1082.8,345.0 L1083.9,385.8 L1085.0,358.8 L1086.1,400.3 L1087.3,399.4 L1088.4,332.2 L1089.5,449.7 L1090.7,258.8 L1091.8,388.5 L1092.9,313.0 L1094.0,368.4 L1095.2,282.1 L1096.3,216.9 L1097.4,382.0 L1098.6,345.5 L1099.7,378.0 L1100.8,454.7 L1101.9,321.8 L1103.1,364.0 L1104.2,266.0 L1105.3,202.1 L1106.5,339.4 L1107.6,116.5 L1108.7,370.4 L1109.8,230.2 L1111.0,361.9 L1112.1,270.3 L1113.2,360.4 L1114.3,201.1 L1115.5,420.4 L1116.6,296.3 L1117.7,393.8 L1118.9,210.7 L1120.0,384.3 L1121.1,482.5 L1122.2,448.5 L1123.4,308.8 L1124.5,423.4 L1125.6,376.3 L1126.8,378.0 L1127.9,453.4 L1129.0,465.0 L1130.1,335.5 L1131.3,289.6 L1132.4,415.7 L1133.5,414.7 L1134.6,385.1 L1135.8,387.6 L1136.9,432.2 L1138.0,482.9 L1139.2,389.1 L1140.3,458.3 L1141.4,343.4 L1142.5,430.6 L1143.7,346.1 L1144.8,426.1 L1145.9,465.6 L1147.1,363.6 L1148.2,303.0 L1149.3,453.9 L1150.4,352.9 L1151.6,426.6 L1152.7,335.8 L1153.8,296.3 L1154.9,505.0 L1156.1,365.4 L1157.2,452.6 L1158.3,320.3 L1159.5,439.7 L1160.6,327.6 L1161.7,392.6 L1162.8,451.6 L1164.0,265.0 L1165.1,403.7 L1166.2,343.2 L1167.4,318.4 L1168.5,416.6 L1169.6,343.1 L1170.7,281.9 L1171.9,390.5 L1173.0,303.4 L1174.1,429.1 L1175.3,334.1 L1176.4,297.3 L1177.5,396.9 L1178.6,408.9 L1179.8,232.1 L1180.9,185.7 L1182.0,399.5 L1183.1,339.6 L1184.3,480.0 L1185.4,360.1 L1186.5,441.4 L1187.7,352.1 L1188.8,337.6 L1189.9,458.9 L1191.0,329.9 L1192.2,415.1 L1193.3,238.6 L1194.4,420.4 L1195.6,281.6 L1196.7,383.0 L1197.8,272.3 L1198.9,378.3 L1200.1,339.9 L1201.2,420.7 L1202.3,378.0 L1203.4,443.5 L1204.6,400.7 L1205.7,376.1 L1206.8,426.0 L1208.0,381.1 L1209.1,433.2 L1210.2,507.9 L1211.3,339.8 L1212.5,303.0 L1213.6,420.4 L1214.7,372.7 L1215.9,475.2 L1217.0,368.3 L1218.1,421.5 L1219.2,312.6 L1220.4,400.0 L1221.5,326.3 L1222.6,418.5 L1223.8,253.0 L1224.9,302.4 L1226.0,338.8 L1227.1,303.9 L1228.3,285.7 L1229.4,357.0 L1230.5,359.0 L1231.6,218.4 L1232.8,407.3 L1233.9,316.6 L1235.0,206.9 L1236.2,327.9 L1237.3,556.0 L1238.4,324.2 L1239.5,468.2 L1240.7,349.2 L1241.8,270.3 L1242.9,418.5 L1244.1,267.2 L1245.2,382.1 L1246.3,114.2 L1247.4,370.6 L1248.6,450.2 L1249.7,293.3 L1250.8,187.6 L1251.9,348.2 L1253.1,359.1 L1254.2,401.2 L1255.3,347.3 L1256.5,442.7 L1257.6,322.0 L1258.7,196.9 L1259.8,508.9 L1261.0,281.6 L1262.1,454.1 L1263.2,310.0 L1264.4,282.8 L1265.5,435.0 L1266.6,338.6 L1267.7,408.5 L1268.9,358.8 L1270.0,447.4 L1271.1,382.5 L1272.2,440.1 L1273.4,408.2 L1274.5,513.7 L1275.6,347.3 L1276.8,447.3 L1277.9,417.4 L1279.0,477.3 L1280.1,526.6 L1281.3,397.3 L1282.4,498.7 L1283.5,408.1 L1284.7,469.1 L1285.8,363.6 L1286.9,493.5 L1288.0,408.3 L1289.2,478.0 L1290.3,538.1 L1291.4,387.7 L1292.6,374.2 L1293.7,469.5 L1294.8,351.1 L1295.9,398.1 L1297.1,309.5 L1298.2,273.2 L1299.3,393.5 L1300.4,327.3 L1301.6,403.2 L1302.7,283.8 L1303.8,467.0 L1305.0,376.3 L1306.1,421.8 L1307.2,378.0 L1308.3,423.2 L1309.5,424.3 L1310.6,387.8 L1311.7,419.8 L1312.9,355.0 L1314.0,484.9 L1315.1,365.8 L1316.2,380.0 L1317.4,308.5 L1318.5,381.7 L1319.6,385.8 L1320.7,228.0 L1321.9,400.5 L1323.0,315.6 L1324.1,261.7 L1325.3,514.7 L1326.4,319.3 L1327.5,351.4 L1328.6,418.5 L1329.8,213.0 L1330.9,367.6 L1332.0,322.5 L1333.2,320.3 L1334.3,373.1 L1335.4,282.6 L1336.5,237.1 L1337.7,393.5 L1338.8,304.1 L1339.9,300.1 L1341.0,399.9 L1342.2,481.6 L1343.3,359.1 L1344.4,434.0 L1345.6,257.8 L1346.7,367.1 L1347.8,292.0 L1348.9,344.5 L1350.1,245.0 L1351.2,391.6 L1352.3,345.5 L1353.5,415.5 L1354.6,341.5 L1355.7,492.0 L1356.8,327.4 L1358.0,229.0 L1359.1,394.4 L1360.2,304.9 L1361.4,442.4 L1362.5,291.5 L1363.6,465.6 L1364.7,321.4 L1365.9,470.7 L1367.0,232.1 L1368.1,129.0 L1369.2,632.4 L1370.4,374.5 L1371.5,397.3 L1372.6,427.1 L1373.8,395.4 L1374.9,342.7 L1376.0,301.1 L1377.1,299.9 L1378.3,316.0 L1379.4,198.2 L1380.5,358.9 L1381.7,220.2 L1382.8,286.0 L1383.9,158.4 L1385.0,370.4 L1386.2,276.1 L1387.3,278.0 L1388.4,392.6 L1389.5,333.4 L1390.7,249.2 L1391.8,475.8 L1392.9,284.4 L1394.1,395.4 L1395.2,222.3 L1396.3,341.2 L1397.4,376.2 L1398.6,282.1 L1399.7,268.4 L1400.8,292.9 L1402.0,312.5 L1403.1,281.9 L1404.2,522.8 L1405.3,402.6 L1406.5,595.0 L1407.6,416.5 L1408.7,524.3 L1409.9,363.6 L1411.0,533.9 L1412.1,439.8 L1413.2,484.3 L1414.4,551.2 L1415.5,405.0 L1416.6,489.8 L1417.7,530.0 L1418.9,408.3 L1420.0,476.7 L1421.1,378.2 L1422.3,324.2 L1423.4,551.2 L1424.5,346.2 L1425.6,386.5 L1426.8,270.3 L1427.9,391.6 L1429.0,313.8 L1430.2,246.3 L1431.3,379.3 L1432.4,294.3 L1433.5,410.8 L1434.7,277.1 L1435.8,469.7 L1436.9,389.8 L1438.0,554.1 L1439.2,378.0 L1440.3,463.8 L1441.4,466.2 L1442.6,359.2 L1443.7,330.0 L1444.8,391.5 L1445.9,313.0 L1447.1,322.3 L1448.2,223.8 L1449.3,347.4 L1450.5,286.4 L1451.6,314.2 L1452.7,320.4 L1453.8,259.8 L1455.0,370.4 L1456.1,324.2 L1457.2,331.9 L1458.3,439.7 L1459.5,437.0 L1460.6,258.4 L1461.7,468.2 L1462.9,319.5 L1464.0,469.5 L1465.1,303.0 L1466.2,563.7 L1467.4,371.4 L1468.5,492.9 L1469.6,397.3 L1470.8,505.9 L1471.9,586.2 L1473.0,388.2 L1474.1,494.0 L1475.3,279.0 L1476.4,454.1 L1477.5,299.9 L1478.7,414.4 L1479.8,350.5 L1480.9,469.7 L1482.0,274.2 L1483.2,504.7 L1484.3,232.8 L1485.4,364.1 L1486.5,148.2 L1487.7,347.4 L1488.8,273.4 L1489.9,378.1 L1491.1,314.6 L1492.2,524.3 L1493.3,314.7 L1494.4,334.4 L1495.6,478.8 L1496.7,190.5 L1497.8,508.5 L1499.0,350.1 L1500.1,320.3 L1501.2,364.5 L1502.3,289.5 L1503.5,234.2 L1504.6,351.2 L1505.7,257.1 L1506.8,244.4 L1508.0,306.1 L1509.1,203.0 L1510.2,314.3 L1511.4,353.1 L1512.5,246.7 L1513.6,161.1 L1514.7,344.7 L1515.9,310.4 L1517.0,324.2 L1518.1,327.4 L1519.3,353.2 L1520.4,432.4 L1521.5,315.6 L1522.6,289.6 L1523.8,396.9 L1524.9,334.8 L1526.0,468.1 L1527.1,335.7 L1528.3,312.6 L1529.4,431.2 L1530.5,332.1 L1531.7,366.2 L1532.8,267.5 L1533.9,428.1 L1535.0,364.6 L1536.2,358.8 L1537.3,365.4 L1538.4,301.0 L1539.6,208.4 L1540.7,376.2 L1541.8,273.9 L1542.9,411.1 L1544.1,319.1 L1545.2,238.6 L1546.3,506.6 L1547.5,313.1 L1548.6,456.8 L1549.7,299.2 L1550.8,462.7 L1552.0,572.7 L1553.1,374.1 L1554.2,358.8 L1555.3,441.5 L1556.5,352.2 L1557.6,367.4 L1558.7,200.7 L1559.9,418.5 L1561.0,263.7 L1562.1,331.2 L1563.2,249.4 L1564.4,222.3 L1565.5,358.9 L1566.6,318.6 L1567.8,375.7 L1568.9,255.0 L1570.0,530.0 L1571.1,334.5 L1572.3,343.4 L1573.4,448.8 L1574.5,325.3 L1575.6,432.0 L1576.8,288.7 L1577.9,168.8 L1579.0,383.9 L1580.2,364.7 L1581.3,266.0 L1582.4,244.4 L1583.5,386.1 L1584.7,437.4 L1585.8,224.2 L1586.9,234.3 L1588.1,283.7 L1589.2,183.7 L1590.3,107.8 L1591.4,242.1 L1592.6,177.8 L1593.7,333.9 L1594.8,132.4 L1595.9,84.8 L1597.1,254.9 L1598.2,171.0 L1599.3,188.6 L1600.5,307.9 L1601.6,382.0 L1602.7,312.6 L1603.8,355.6 L1605.0,313.5 L1606.1,252.1 L1607.2,365.5 L1608.4,303.0 L1609.5,407.9 L1610.6,311.4 L1611.7,242.5 L1612.9,353.0 L1614.0,350.3 L1615.1,450.6 L1616.3,303.0 L1617.4,357.6 L1618.5,291.6 L1619.6,385.8 L1620.8,238.5 L1621.9,178.4 L1623.0,364.7 L1624.1,292.6 L1625.3,258.8 L1626.4,490.6 L1627.5,296.8 L1628.7,354.9 L1629.8,353.6 L1630.9,189.6 L1632.0,420.4 L1633.2,327.5 L1634.3,358.8 L1635.4,434.9 L1636.6,287.5 L1637.7,373.7 L1638.8,205.0 L1639.9,359.0 L1641.1,321.6 L1642.2,320.3 L1643.3,432.0 L1644.4,350.0 L1645.6,369.6 L1646.7,305.7 L1647.8,262.6 L1649.0,414.7 L1650.1,372.7 L1651.2,326.9 L1652.3,330.9 L1653.5,262.6 L1654.6,402.7 L1655.7,316.5 L1656.9,338.4 L1658.0,288.0 L1659.1,250.0 L1660.2,211.1 L1661.4,366.6 L1662.5,345.1 L1663.6,410.7 L1664.8,447.4 L1665.9,320.3 L1667.0,442.7 L1668.1,427.8 L1669.3,549.3 L1670.4,417.5 L1671.5,370.3 L1672.6,455.0 L1673.8,468.7 L1674.9,514.4 L1676.0,547.4 L1677.2,419.1 L1678.3,371.3 L1679.4,444.9 L1680.5,491.6 L1681.7,475.5 L1682.8,446.2 L1683.9,416.5 L1685.1,518.1 L1686.2,464.4 L1687.3,466.0 L1688.4,495.4 L1689.6,438.6 L1690.7,404.4 L1691.8,383.0 L1692.9,414.3 L1694.1,413.8 L1695.2,482.9 L1696.3,360.0 L1697.5,273.0 L1698.6,199.2 L1699.7,298.4 L1700.8,333.9 L1702.0,339.6 L1703.1,334.6 L1704.2,287.5 L1705.4,311.7 L1706.5,206.9 L1707.6,435.8 L1708.7,374.3 L1709.9,401.2 L1711.0,394.7 L1712.1,358.8 L1713.2,442.5 L1714.4,356.9 L1715.5,279.0 L1716.6,363.0 L1717.8,397.5 L1718.9,438.1 L1720.0,230.9 L1721.1,293.2 L1722.3,298.6 L1723.4,333.9 L1724.5,287.6 L1725.7,329.5 L1726.8,334.9 L1727.9,372.7 L1729.0,320.3 L1730.2,318.1 L1731.3,271.2 L1732.4,273.0 L1733.6,232.5 L1734.7,201.4 L1735.8,149.2 L1736.9,330.0 L1738.1,278.3 L1739.2,315.0 L1740.3,260.7 L1741.4,318.4 L1742.6,325.7 L1743.7,362.9 L1744.8,358.8 L1746.0,432.4 L1747.1,368.0 L1748.2,313.0 L1749.3,208.8 L1750.5,294.6 L1751.6,330.0 L1752.7,184.8 L1753.9,230.6 L1755.0,202.4 L1756.1,257.0 L1757.2,220.9 L1758.4,206.9 L1759.5,238.6 L1760.6,267.4 L1761.7,291.9 L1762.9,308.8 L1764.0,383.9 L1765.1,358.2 L1766.3,320.9 L1767.4,315.3 L1768.5,271.3 L1769.6,323.1 L1770.8,357.0 L1771.9,339.6 L1773.0,323.4 L1774.2,314.1 L1775.3,263.6 L1776.4,319.3 L1777.5,366.6 L1778.7,358.8 L1779.8,350.9 L1780.9,332.2 L1782.0,331.0 L1783.2,295.3 L1784.3,342.1 L1785.4,368.5 L1786.6,323.5 L1787.7,294.4 L1788.8,303.0 L1789.9,315.5 L1791.1,320.3 L1792.2,318.4 L1793.3,364.7 L1794.5,316.1 L1795.6,297.1 L1796.7,254.6 L1797.8,201.5 L1799.0,347.4 L1800.1,347.0 L1801.2,342.2 L1802.4,320.3 L1803.5,503.1 L1804.6,380.1 L1805.7,367.0 L1806.9,255.9 L1808.0,334.4 L1809.1,366.6 L1810.2,332.5 L1811.4,315.5 L1812.5,345.2 L1813.6,378.1 L1814.8,408.5 L1815.9,364.9 L1817.0,341.5 L1818.1,358.3 L1819.3,356.0 L1820.4,358.8 L1821.5,366.6 L1822.7,339.4 L1823.8,287.0 L1824.9,221.3 L1826.0,317.4 L1827.2,428.1 L1828.3,339.6 L1829.4,352.5 L1830.5,304.7 L1831.7,239.6 L1832.8,382.5 L1833.9,480.0 L1835.1,375.5 L1836.2,331.9 L1837.3,377.1 L1838.4,401.2 L1839.6,340.3 L1840.7,310.2 L1841.8,260.7 L1843.0,355.1 L1844.1,419.5 L1845.2,348.2 L1846.3,311.8 L1847.5,316.2 L1848.6,249.2 L1849.7,303.6 L1850.8,337.7 L1852.0,275.4 L1853.1,239.2 L1854.2,274.3 L1855.4,303.1 L1856.5,306.8 L1857.6,311.9 L1858.7,326.1 L1859.9,373.9 L1861.0,414.7 L1862.1,356.8 L1863.3,352.9 L1864.4,295.3 L1865.5,261.1 L1866.6,325.4 L1867.8,357.0 L1868.9,260.7 L1870.0,347.3 L1871.2,373.7 L1872.3,483.9 L1873.4,438.1 L1874.5,358.8 L1875.7,441.8 L1876.8,502.7 L1877.9,378.0 L1879.0,380.9 L1880.2,333.4 L1881.3,328.7 L1882.4,263.0 L1883.6,405.0 L1884.7,397.1 L1885.8,382.0 L1886.9,358.8 L1888.1,503.1 L1889.2,447.8 L1890.3,440.9 L1891.5,398.8 L1892.6,405.0 L1893.7,372.0 L1894.8,312.6 L1896.0,414.7 L1897.1,382.1 L1898.2,365.7 L1899.3,311.6 L1900.5,251.5 L1901.6,349.7 L1902.7,484.3 L1903.9,398.5 L1905.0,369.9 L1906.1,313.6 L1907.2,375.1 L1908.4,462.7 L1909.5,425.4 L1910.6,441.9 L1911.8,393.2 L1912.9,355.0 L1914.0,624.3 L1915.1,550.2 L1916.3,484.1 L1917.4,466.6 L1918.5,422.6 L1919.7,385.8 L1920.8,301.1 L1921.9,340.9 L1923.0,360.6 L1924.2,358.8 L1925.3,395.6 L1926.4,432.9 L1927.5,410.5 L1928.7,372.1 L1929.8,379.3 L1930.9,347.8 L1932.1,366.6 L1933.2,239.2 L1934.3,289.7 L1935.4,306.9 L1936.6,365.8 L1937.7,339.6 L1938.8,449.6 L1940.0,463.6 L1941.1,592.5 L1942.2,509.9 L1943.3,419.5 L1944.5,403.9 L1945.6,320.3 L1946.7,453.1 L1947.8,405.5 L1949.0,464.7 L1950.1,346.7 L1951.2,316.8 L1952.4,208.8 L1953.5,297.4 L1954.6,337.7 L1955.7,329.7 L1956.9,339.6 L1958.0,342.1 L1959.1,338.1 L1960.3,329.4 L1961.4,297.3 L1962.5,409.9 L1963.6,321.1 L1964.8,294.7 L1965.9,203.0 L1967.0,347.4 L1968.1,351.4 L1969.3,331.3 L1970.4,361.0 L1971.5,339.6 L1972.7,448.9 L1973.8,374.3 L1974.9,333.9 L1976.0,297.3 L1977.2,282.4 L1978.3,260.7" fill="none" stroke="#008000" stroke-width="3.75" stroke-linejoin="round" stroke-linecap="butt"/>
<line x1="492.70" y1="1016.90" x2="492.70" y2="1009.40" class="t"/>
<line x1="740.90" y1="1016.90" x2="740.90" y2="1009.40" class="t"/>
<line x1="989.10" y1="1016.90" x2="989.10" y2="1009.40" class="t"/>
<line x1="1237.30" y1="1016.90" x2="1237.30" y2="1009.40" class="t"/>
<line x1="1485.50" y1="1016.90" x2="1485.50" y2="1009.40" class="t"/>
<line x1="1733.70" y1="1016.90" x2="1733.70" y2="1009.40" class="t"/>
<line x1="1981.90" y1="1016.90" x2="1981.90" y2="1009.40" class="t"/>
<line x1="249.30" y1="151.98" x2="256.80" y2="151.98" class="t"/>
<line x1="249.30" y1="289.82" x2="256.80" y2="289.82" class="t"/>
<line x1="249.30" y1="427.66" x2="256.80" y2="427.66" class="t"/>
<line x1="249.30" y1="565.50" x2="256.80" y2="565.50" class="t"/>
<line x1="249.30" y1="703.34" x2="256.80" y2="703.34" class="t"/>
<line x1="249.30" y1="841.18" x2="256.80" y2="841.18" class="t"/>
<line x1="249.30" y1="979.02" x2="256.80" y2="979.02" class="t"/>
<rect x="249.30" y="28.80" width="1811.20" height="988.10" class="s"/>
<text x="492.7" y="1063.2" class="tk" text-anchor="middle">2019-05</text>
<text x="740.9" y="1063.2" class="tk" text-anchor="middle">2019-12</text>
<text x="989.1" y="1063.2" class="tk" text-anchor="middle">2020-08</text>
<text x="1237.3" y="1063.2" class="tk" text-anchor="middle">2021-03</text>
<text x="1485.5" y="1063.2" class="tk" text-anchor="middle">2021-10</text>
<text x="1733.7" y="1063.2" class="tk" text-anchor="middle">2022-05</text>
<text x="1981.9" y="1063.2" class="tk" text-anchor="middle">2023-01</text>
<text x="240.5" y="170.6" class="tk" text-anchor="end">60</text>
<text x="240.5" y="308.4" class="tk" text-anchor="end">40</text>
<text x="240.5" y="446.3" class="tk" text-anchor="end">20</text>
<text x="240.5" y="584.1" class="tk" text-anchor="end">0</text>
<text x="240.5" y="721.9" class="tk" text-anchor="end">−20</text>
<text x="240.5" y="859.8" class="tk" text-anchor="end">−40</text>
<text x="240.5" y="997.6" class="tk" text-anchor="end">−60</text>
<text x="1155.4" y="1121.8" class="tk" text-anchor="middle">Date(year-month)</text>
<text transform="translate(110,526.4) rotate(-90)" class="tk" text-anchor="middle">DIFF_LOD(us)</text>
<rect x="1675.8" y="48.6" width="366.2" height="130.3" rx="5" ry="5" fill="#fff" fill-opacity="0.8" stroke="#ccc" stroke-opacity="0.8" stroke-width="2"/><line x1="1691.8" y1="81.0" x2="1771.8" y2="81.0" stroke="#ff0000" stroke-width="3.75" stroke-linecap="square"/><text x="1803.8" y="95.3" class="lg">COM-C04</text><line x1="1691.8" y1="139.6" x2="1771.8" y2="139.6" stroke="#008000" stroke-width="3.75" stroke-linecap="square"/><text x="1803.8" y="153.9" class="lg">WHU-C04</text>
</g>
<g id="bot">
<line x1="332.00" y1="2202.40" x2="332.00" y2="1214.10" class="g"/>
<line x1="543.05" y1="2202.40" x2="543.05" y2="1214.10" class="g"/>
<line x1="754.10" y1="2202.40" x2="754.10" y2="1214.10" class="g"/>
<line x1="965.15" y1="2202.40" x2="965.15" y2="1214.10" class="g"/>
<line x1="1176.20" y1="2202.40" x2="1176.20" y2="1214.10" class="g"/>
<line x1="1387.25" y1="2202.40" x2="1387.25" y2="1214.10" class="g"/>
<line x1="1598.30" y1="2202.40" x2="1598.30" y2="1214.10" class="g"/>
<line x1="1809.35" y1="2202.40" x2="1809.35" y2="1214.10" class="g"/>
<line x1="2020.40" y1="2202.40" x2="2020.40" y2="1214.10" class="g"/>
<line x1="249.30" y1="2077.64" x2="2060.50" y2="2077.64" class="g"/>
<line x1="249.30" y1="1952.89" x2="2060.50" y2="1952.89" class="g"/>
<line x1="249.30" y1="1828.14" x2="2060.50" y2="1828.14" class="g"/>
<line x1="249.30" y1="1703.38" x2="2060.50" y2="1703.38" class="g"/>
<line x1="249.30" y1="1578.62" x2="2060.50" y2="1578.62" class="g"/>
<line x1="249.30" y1="1453.87" x2="2060.50" y2="1453.87" class="g"/>
<line x1="249.30" y1="1329.12" x2="2060.50" y2="1329.12" class="g"/>
<line x1="332.00" y1="2202.40" x2="332.00" y2="2194.90" class="t"/>
<line x1="543.05" y1="2202.40" x2="543.05" y2="2194.90" class="t"/>
<line x1="754.10" y1="2202.40" x2="754.10" y2="2194.90" class="t"/>
<line x1="965.15" y1="2202.40" x2="965.15" y2="2194.90" class="t"/>
<line x1="1176.20" y1="2202.40" x2="1176.20" y2="2194.90" class="t"/>
<line x1="1387.25" y1="2202.40" x2="1387.25" y2="2194.90" class="t"/>
<line x1="1598.30" y1="2202.40" x2="1598.30" y2="2194.90" class="t"/>
<line x1="1809.35" y1="2202.40" x2="1809.35" y2="2194.90" class="t"/>
<line x1="2020.40" y1="2202.40" x2="2020.40" y2="2194.90" class="t"/>
<line x1="249.30" y1="2202.40" x2="256.80" y2="2202.40" class="t"/>
<line x1="249.30" y1="2077.64" x2="256.80" y2="2077.64" class="t"/>
<line x1="249.30" y1="1952.89" x2="256.80" y2="1952.89" class="t"/>
<line x1="249.30" y1="1828.14" x2="256.80" y2="1828.14" class="t"/>
<line x1="249.30" y1="1703.38" x2="256.80" y2="1703.38" class="t"/>
<line x1="249.30" y1="1578.62" x2="256.80" y2="1578.62" class="t"/>
<line x1="249.30" y1="1453.87" x2="256.80" y2="1453.87" class="t"/>
<line x1="249.30" y1="1329.12" x2="256.80" y2="1329.12" class="t"/>
<rect x="627.47" y="2191.17" width="42.21" height="11.23" fill="#20ab56" fill-opacity="0.75"/>
<rect x="669.68" y="2199.41" width="42.21" height="2.99" fill="#606000" fill-opacity="0.8"/>
<rect x="669.68" y="2190.92" width="42.21" height="8.48" fill="#20ab56" fill-opacity="0.75"/>
<rect x="711.89" y="2188.43" width="42.21" height="13.97" fill="#606000" fill-opacity="0.8"/>
<rect x="711.89" y="2147.01" width="42.21" height="41.42" fill="#20ab56" fill-opacity="0.75"/>
<rect x="754.10" y="2175.20" width="42.21" height="27.20" fill="#606000" fill-opacity="0.8"/>
<rect x="754.10" y="2087.87" width="42.21" height="87.33" fill="#20ab56" fill-opacity="0.75"/>
<rect x="796.31" y="2074.15" width="42.21" height="128.25" fill="#606000" fill-opacity="0.8"/>
<rect x="796.31" y="2008.03" width="42.21" height="66.12" fill="#20ab56" fill-opacity="0.75"/>
<rect x="838.52" y="1962.37" width="42.21" height="240.03" fill="#606000" fill-opacity="0.8"/>
<rect x="838.52" y="1893.26" width="42.21" height="69.11" fill="#20ab56" fill-opacity="0.75"/>
<rect x="880.73" y="1764.76" width="42.21" height="437.64" fill="#606000" fill-opacity="0.8"/>
<rect x="880.73" y="1747.54" width="42.21" height="17.22" fill="#20ab56" fill-opacity="0.75"/>
<rect x="922.94" y="1570.64" width="42.21" height="631.76" fill="#606000" fill-opacity="0.8"/>
<rect x="922.94" y="1437.90" width="42.21" height="132.74" fill="#ff0000" fill-opacity="0.5"/>
<rect x="965.15" y="1521.49" width="42.21" height="680.91" fill="#606000" fill-opacity="0.8"/>
<rect x="965.15" y="1354.81" width="42.21" height="166.67" fill="#ff0000" fill-opacity="0.5"/>
<rect x="1007.36" y="1448.88" width="42.21" height="753.52" fill="#606000" fill-opacity="0.8"/>
<rect x="1007.36" y="1263.74" width="42.21" height="185.14" fill="#ff0000" fill-opacity="0.5"/>
<rect x="1049.57" y="1504.02" width="42.21" height="698.38" fill="#606000" fill-opacity="0.8"/>
<rect x="1049.57" y="1455.12" width="42.21" height="48.90" fill="#ff0000" fill-opacity="0.5"/>
<rect x="1091.78" y="1744.55" width="42.21" height="457.85" fill="#606000" fill-opacity="0.8"/>
<rect x="1091.78" y="1701.88" width="42.21" height="42.67" fill="#ff0000" fill-opacity="0.5"/>
<rect x="1133.99" y="1983.08" width="42.21" height="219.32" fill="#606000" fill-opacity="0.8"/>
<rect x="1133.99" y="1907.48" width="42.21" height="75.60" fill="#20ab56" fill-opacity="0.75"/>
<rect x="1176.20" y="2115.32" width="42.21" height="87.08" fill="#606000" fill-opacity="0.8"/>
<rect x="1176.20" y="2015.27" width="42.21" height="100.05" fill="#20ab56" fill-opacity="0.75"/>
<rect x="1218.41" y="2178.20" width="42.21" height="24.20" fill="#606000" fill-opacity="0.8"/>
<rect x="1218.41" y="2129.54" width="42.21" height="48.65" fill="#20ab56" fill-opacity="0.75"/>
<rect x="1260.62" y="2191.92" width="42.21" height="10.48" fill="#606000" fill-opacity="0.8"/>
<rect x="1260.62" y="2167.72" width="42.21" height="24.20" fill="#20ab56" fill-opacity="0.75"/>
<rect x="1302.83" y="2177.70" width="42.21" height="24.70" fill="#20ab56" fill-opacity="0.75"/>
<rect x="1345.04" y="2197.41" width="42.21" height="4.99" fill="#20ab56" fill-opacity="0.75"/>
<rect x="669.68" y="2199.41" width="42.21" height="2.99" fill="none" stroke="#000" stroke-opacity="0.5" stroke-width="2"/>
<rect x="711.89" y="2188.43" width="42.21" height="13.97" fill="none" stroke="#000" stroke-opacity="0.5" stroke-width="2"/>
<rect x="754.10" y="2175.20" width="42.21" height="27.20" fill="none" stroke="#000" stroke-opacity="0.5" stroke-width="2"/>
<rect x="796.31" y="2074.15" width="42.21" height="128.25" fill="none" stroke="#000" stroke-opacity="0.5" stroke-width="2"/>
<rect x="838.52" y="1962.37" width="42.21" height="240.03" fill="none" stroke="#000" stroke-opacity="0.5" stroke-width="2"/>
<rect x="880.73" y="1764.76" width="42.21" height="437.64" fill="none" stroke="#000" stroke-opacity="0.5" stroke-width="2"/>
<rect x="922.94" y="1437.90" width="42.21" height="764.50" fill="none" stroke="#000" stroke-opacity="0.5" stroke-width="2"/>
<rect x="965.15" y="1354.81" width="42.21" height="847.59" fill="none" stroke="#000" stroke-opacity="0.5" stroke-width="2"/>
<rect x="1007.36" y="1263.74" width="42.21" height="938.66" fill="none" stroke="#000" stroke-opacity="0.5" stroke-width="2"/>
<rect x="1049.57" y="1455.12" width="42.21" height="747.28" fill="none" stroke="#000" stroke-opacity="0.5" stroke-width="2"/>
<rect x="1091.78" y="1701.88" width="42.21" height="500.52" fill="none" stroke="#000" stroke-opacity="0.5" stroke-width="2"/>
<rect x="1133.99" y="1983.08" width="42.21" height="219.32" fill="none" stroke="#000" stroke-opacity="0.5" stroke-width="2"/>
<rect x="1176.20" y="2115.32" width="42.21" height="87.08" fill="none" stroke="#000" stroke-opacity="0.5" stroke-width="2"/>
<rect x="1218.41" y="2178.20" width="42.21" height="24.20" fill="none" stroke="#000" stroke-opacity="0.5" stroke-width="2"/>
<rect x="1260.62" y="2191.92" width="42.21" height="10.48" fill="none" stroke="#000" stroke-opacity="0.5" stroke-width="2"/>
<rect x="627.47" y="2191.17" width="42.21" height="11.23" fill="none" stroke="#000" stroke-opacity="0.5" stroke-width="2"/>
<rect x="669.68" y="2190.92" width="42.21" height="11.48" fill="none" stroke="#000" stroke-opacity="0.5" stroke-width="2"/>
<rect x="711.89" y="2147.01" width="42.21" height="55.39" fill="none" stroke="#000" stroke-opacity="0.5" stroke-width="2"/>
<rect x="754.10" y="2087.87" width="42.21" height="114.53" fill="none" stroke="#000" stroke-opacity="0.5" stroke-width="2"/>
<rect x="796.31" y="2008.03" width="42.21" height="194.37" fill="none" stroke="#000" stroke-opacity="0.5" stroke-width="2"/>
<rect x="838.52" y="1893.26" width="42.21" height="309.14" fill="none" stroke="#000" stroke-opacity="0.5" stroke-width="2"/>
<rect x="880.73" y="1747.54" width="42.21" height="454.86" fill="none" stroke="#000" stroke-opacity="0.5" stroke-width="2"/>
<rect x="922.94" y="1570.64" width="42.21" height="631.76" fill="none" stroke="#000" stroke-opacity="0.5" stroke-width="2"/>
<rect x="965.15" y="1521.49" width="42.21" height="680.91" fill="none" stroke="#000" stroke-opacity="0.5" stroke-width="2"/>
<rect x="1007.36" y="1448.88" width="42.21" height="753.52" fill="none" stroke="#000" stroke-opacity="0.5" stroke-width="2"/>
<rect x="1049.57" y="1504.02" width="42.21" height="698.38" fill="none" stroke="#000" stroke-opacity="0.5" stroke-width="2"/>
<rect x="1091.78" y="1744.55" width="42.21" height="457.85" fill="none" stroke="#000" stroke-opacity="0.5" stroke-width="2"/>
<rect x="1133.99" y="1907.48" width="42.21" height="294.92" fill="none" stroke="#000" stroke-opacity="0.5" stroke-width="2"/>
<rect x="1176.20" y="2015.27" width="42.21" height="187.13" fill="none" stroke="#000" stroke-opacity="0.5" stroke-width="2"/>
<rect x="1218.41" y="2129.54" width="42.21" height="72.86" fill="none" stroke="#000" stroke-opacity="0.5" stroke-width="2"/>
<rect x="1260.62" y="2167.72" width="42.21" height="34.68" fill="none" stroke="#000" stroke-opacity="0.5" stroke-width="2"/>
<rect x="1302.83" y="2177.70" width="42.21" height="24.70" fill="none" stroke="#000" stroke-opacity="0.5" stroke-width="2"/>
<rect x="1345.04" y="2197.41" width="42.21" height="4.99" fill="none" stroke="#000" stroke-opacity="0.5" stroke-width="2"/>
<rect x="249.30" y="1214.10" width="1811.20" height="988.30" class="s"/>
<path d="M332.00,2202.40 L374.21,2202.40 L416.42,2202.40 L458.63,2202.40 L500.84,2202.40 L543.05,2202.40 L585.26,2202.38 L627.47,2202.28 L669.68,2201.58 L711.89,2198.06 L754.10,2184.12 L796.31,2140.74 L838.52,2036.09 L880.73,1843.73 L922.94,1583.82 L965.15,1349.29 L1007.36,1261.53 L1049.57,1372.61 L1091.78,1617.18 L1133.99,1872.35 L1176.20,2053.55 L1218.41,2148.72 L1260.62,2186.92 L1302.83,2198.83 L1345.04,2201.74 L1387.25,2202.30 L1429.46,2202.39 L1471.67,2202.40 L1513.88,2202.40 L1556.09,2202.40 L1598.30,2202.40 L1640.51,2202.40 L1682.72,2202.40 L1724.93,2202.40 L1767.14,2202.40 L1809.35,2202.40 L1851.56,2202.40 L1893.77,2202.40 L1935.98,2202.40 L1978.19,2202.40" fill="none" stroke="#ff0000" stroke-width="10" stroke-linejoin="round" stroke-linecap="square" clip-path="url(#c2)"/>
<path d="M332.00,2202.40 L374.21,2202.40 L416.42,2202.40 L458.63,2202.39 L500.84,2202.36 L543.05,2202.20 L585.26,2201.55 L627.47,2199.31 L669.68,2192.59 L711.89,2175.23 L754.10,2136.78 L796.31,2064.20 L838.52,1948.55 L880.73,1795.71 L922.94,1634.13 L965.15,1509.86 L1007.36,1466.30 L1049.57,1520.02 L1091.78,1650.67 L1133.99,1813.34 L1176.20,1963.11 L1218.41,2074.04 L1260.62,2142.35 L1302.83,2177.90 L1345.04,2193.68 L1387.25,2199.69 L1429.46,2201.67 L1471.67,2202.23 L1513.88,2202.36 L1556.09,2202.39 L1598.30,2202.40 L1640.51,2202.40 L1682.72,2202.40 L1724.93,2202.40 L1767.14,2202.40 L1809.35,2202.40 L1851.56,2202.40 L1893.77,2202.40 L1935.98,2202.40 L1978.19,2202.40" fill="none" stroke="#008000" stroke-width="10" stroke-linejoin="round" stroke-linecap="square" clip-path="url(#c2)"/>
<text x="332.0" y="2248.5" class="tk" text-anchor="middle">−100</text>
<text x="543.1" y="2248.5" class="tk" text-anchor="middle">−75</text>
<text x="754.1" y="2248.5" class="tk" text-anchor="middle">−50</text>
<text x="965.2" y="2248.5" class="tk" text-anchor="middle">−25</text>
<text x="1176.2" y="2248.5" class="tk" text-anchor="middle">0</text>
<text x="1387.2" y="2248.5" class="tk" text-anchor="middle">25</text>
<text x="1598.3" y="2248.5" class="tk" text-anchor="middle">50</text>
<text x="1809.3" y="2248.5" class="tk" text-anchor="middle">75</text>
<text x="2020.4" y="2248.5" class="tk" text-anchor="middle">100</text>
<text x="240.5" y="2221.0" class="tk" text-anchor="end">0.000</text>
<text x="240.5" y="2096.2" class="tk" text-anchor="end">0.005</text>
<text x="240.5" y="1971.5" class="tk" text-anchor="end">0.010</text>
<text x="240.5" y="1846.7" class="tk" text-anchor="end">0.015</text>
<text x="240.5" y="1722.0" class="tk" text-anchor="end">0.020</text>
<text x="240.5" y="1597.2" class="tk" text-anchor="end">0.025</text>
<text x="240.5" y="1472.5" class="tk" text-anchor="end">0.030</text>
<text x="240.5" y="1347.7" class="tk" text-anchor="end">0.035</text>
<text x="1154.9" y="2307" class="tk" text-anchor="middle">DIFF_LOD (us)</text>
<text transform="translate(63.2,1709.5) rotate(-90)" class="tk" text-anchor="middle">Probability Distribution Function</text>
<rect x="1675.8" y="1234.3" width="366.2" height="130.3" rx="5" ry="5" fill="#fff" fill-opacity="0.8" stroke="#ccc" stroke-opacity="0.8" stroke-width="2"/><line x1="1691.8" y1="1266.7" x2="1771.8" y2="1266.7" stroke="#ff0000" stroke-width="10" stroke-linecap="square"/><text x="1803.8" y="1281.0" class="lg">COM-C04</text><line x1="1691.8" y1="1325.3" x2="1771.8" y2="1325.3" stroke="#008000" stroke-width="10" stroke-linecap="square"/><text x="1803.8" y="1339.6" class="lg">WHU-C04</text>
</g>
</svg></body></html>
